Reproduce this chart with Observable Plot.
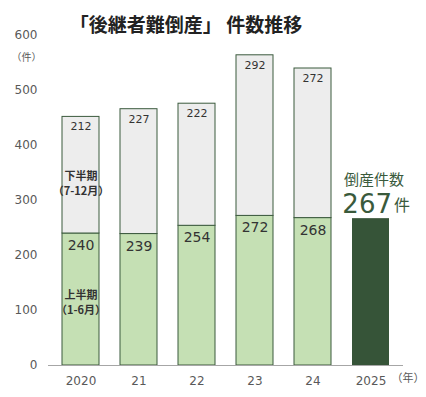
<!DOCTYPE html>
<html><head><meta charset="utf-8">
<script src="https://cdn.jsdelivr.net/npm/d3@7"></script>
<script src="https://cdn.jsdelivr.net/npm/@observablehq/plot@0.6"></script>
<style>
body{margin:0;background:#fff;}
svg{font-family:"DejaVu Sans","Noto Sans CJK JP",sans-serif;}
</style></head>
<body><div id="chart"></div>
<script>
const years = ["2020","21","22","23","24","2025"];
const pastYears = ["2020","21","22","23","24"];
const firstHalf = [240,239,254,272,268];
const secondHalf = [212,227,222,292,272];
const year2025 = "2025";
const total2025 = 267;
const yTicks = [0,100,200,300,400,500,600];
const title = "「後継者難倒産」 件数推移";

const rows = pastYears.map((y,i)=>({year:y, first:firstHalf[i], second:secondHalf[i], total:firstHalf[i]+secondHalf[i]}));

const green="#c5e0b4", gray="#ededed", stroke="#3b5a3d", dark="#365438", txt="#333";
const cjk = "'Noto Sans CJK JP',sans-serif";

const plot = Plot.plot({
  width:426, height:397,
  marginTop:35, marginBottom:32, marginLeft:48, marginRight:23,
  style:{background:"#fff", color:"#595959", fontSize:"12px"},
  x:{domain:years, paddingInner:0.354, paddingOuter:0.204, label:null, tickSize:0, tickPadding:11},
  y:{domain:[0,600], ticks:yTicks, label:null, tickSize:0, tickPadding:11},
  marks:[
    Plot.barY(rows,{x:"year", y1:0, y2:"first", fill:green, stroke:stroke, strokeWidth:1}),
    Plot.barY(rows,{x:"year", y1:"first", y2:"total", fill:gray, stroke:stroke, strokeWidth:1}),
    Plot.barY([{year:year2025, v:total2025}],{x:"year", y:"v", fill:dark}),
    Plot.ruleY([0],{stroke:"#a6a6a6", strokeWidth:1.2}),
    Plot.text(rows,{x:"year", y:"first", text:d=>String(d.first), dy:12, fontSize:14, fill:txt}),
    Plot.text(rows,{x:"year", y:"total", text:d=>String(d.second), dy:10, fontSize:11, fill:txt}),
    Plot.text([title],{frameAnchor:"top", dx:-40, dy:-17, fontSize:19, fontWeight:"bold", fill:"#222", fontFamily:cjk}),
    Plot.text(["（件）"],{frameAnchor:"top-left", textAnchor:"middle", dx:-22, dy:18, fontSize:10, fill:"#595959", fontFamily:cjk}),
    Plot.text(["（年）"],{frameAnchor:"bottom-right", textAnchor:"start", dx:-12, dy:16, fontSize:11, fill:"#595959", fontFamily:cjk}),
    Plot.text(["下半期\n（7-12月）"],{x:()=>"2020", y:()=>333, fontSize:11, fontWeight:"bold", fill:"#333", lineHeight:1.35, fontFamily:cjk}),
    Plot.text(["上半期\n（1-6月）"],{x:()=>"2020", y:()=>116, fontSize:11, fontWeight:"bold", fill:"#333", lineHeight:1.35, fontFamily:cjk}),
    Plot.text(["倒産件数"],{x:()=>year2025, y:()=>337, dx:3, fontSize:15, fill:"#3a5a3c", fontFamily:cjk}),
    Plot.text([total2025],{x:()=>year2025, y:()=>292, dx:21, textAnchor:"end", fontSize:26, fill:"#3a5a3c", text:d=>String(d)}),
    Plot.text(["件"],{x:()=>year2025, y:()=>290, dx:23, textAnchor:"start", fontSize:16, fill:"#3a5a3c", fontFamily:cjk})
  ]
});
document.getElementById("chart").appendChild(plot);
</script></body></html>
